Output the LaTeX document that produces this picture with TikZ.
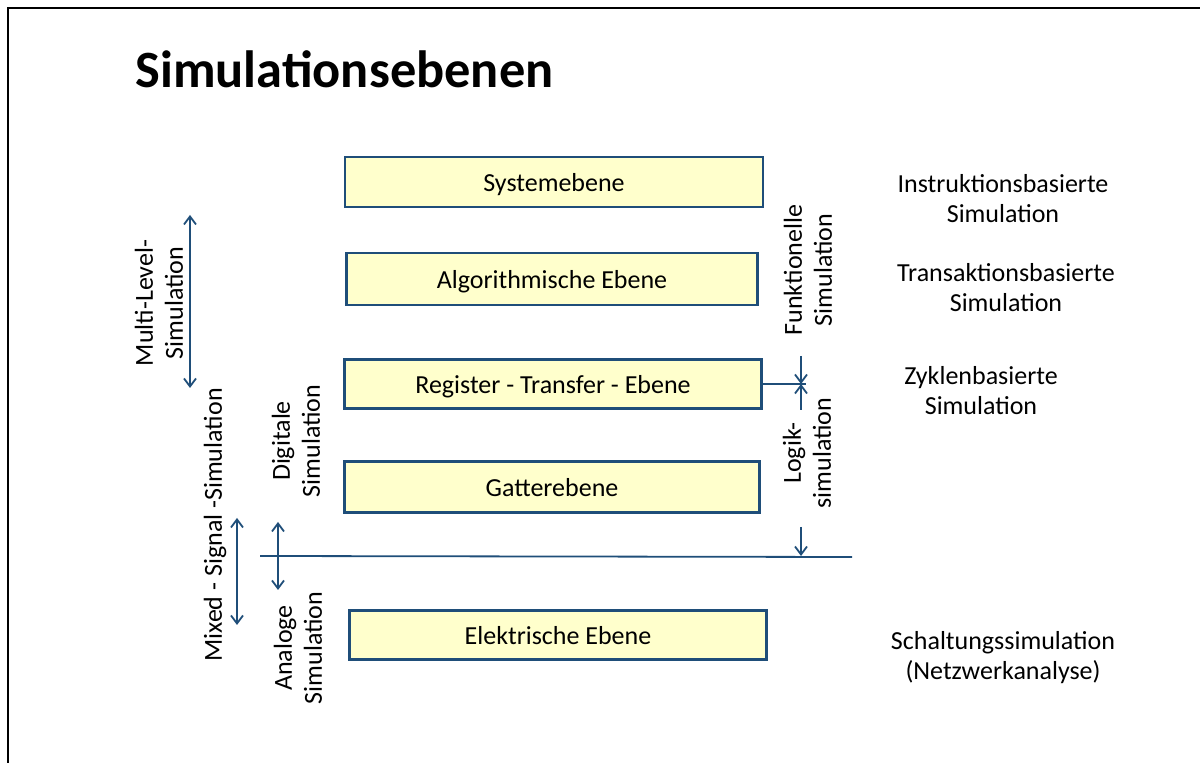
\documentclass[tikz,border=0pt]{standalone}
\usepackage{fontspec}
\setmainfont{Carlito}
\usetikzlibrary{arrows.meta}
\definecolor{boxfill}{RGB}{255,255,204}
\definecolor{boxline}{RGB}{31,78,121}
\begin{document}
\begin{tikzpicture}[x=0.5pt,y=-0.5pt,
  level/.style={draw=boxline, line width=1.1pt, fill=boxfill, inner sep=0pt,
    text height=12pt, text depth=2pt, font=\fontsize{13}{15}\selectfont},
  lbl/.style={font=\fontsize{13}{15}\selectfont, align=center, inner sep=0pt},
  vlbl/.style={lbl, rotate=90},
  conn/.style={draw=boxline, line width=0.9pt},
  tip/.style={conn, -{Straight Barb[length=4pt,width=6pt]}},
  dbl/.style={conn, {Straight Barb[length=4pt,width=6pt]}-{Straight Barb[length=4pt,width=6pt]}}
]
\useasboundingbox (0,0) rectangle (1200,763);
\draw[line width=1.1pt] (8,763) -- (8,8) -- (1200,8);

\node[anchor=base west, inner sep=0pt, font=\fontsize{26.2}{30}\selectfont\bfseries] (title) at (135,88) {Simulationsebenen};

\node[level, minimum width=209pt, minimum height=25pt] (sys) at (554,182) {Systemebene};
\node[level, minimum width=205.5pt, minimum height=26pt] (alg) at (552,279) {Algorithmische Ebene};
\node[level, minimum width=208.5pt, minimum height=24.5pt] (rt) at (553,384) {Register - Transfer - Ebene};
\node[level, minimum width=207.5pt, minimum height=25.5pt] (gat) at (552,487) {Gatterebene};
\node[level, minimum width=208.5pt, minimum height=24.5pt] (ele) at (558,635) {Elektrische Ebene};

% horizontal divider
\coordinate (hl1) at (260,556);
\coordinate (hl2) at (852,557);
\draw[conn] (hl1) -- (hl2);

% RT connector and range arrows
\coordinate (rtx) at (801,384);
\coordinate (fs) at (801,356);
\coordinate (ls1) at (801,410);
\coordinate (ls2) at (801,527);
\coordinate (lsx) at (801,556);
\draw[conn] (rt.east) -- (806,384);
\draw[tip] (fs) -- (rtx);
\draw[tip] (ls1) -- (rtx);
\draw[tip] (ls2) -- (lsx);

% left arrows
\coordinate (ml1) at (190,215);
\coordinate (ml2) at (190,388);
\draw[dbl] (ml1) -- (ml2);
\coordinate (ms1) at (237,518);
\coordinate (ms2) at (237,625);
\draw[dbl] (ms1) -- (ms2);
\coordinate (da1) at (278,522);
\coordinate (da2) at (278,590);
\draw[dbl] (da1) -- (da2);

% rotated labels
\node[vlbl] (funk) at (808,270) {Funktionelle\\Simulation};
\node[vlbl] (logik) at (807,453) {Logik-\\simulation};
\node[vlbl] (multi) at (159,303) {Multi-Level-\\Simulation};
\node[vlbl] (mixed) at (215,525) {Mixed - Signal -Simulation};
\node[vlbl] (digi) at (296,441) {Digitale\\Simulation};
\node[vlbl] (ana) at (298,648) {Analoge\\Simulation};

% right labels
\node[lbl] (instr) at (1003,199) {Instruktionsbasierte\\Simulation};
\node[lbl] (trans) at (1006,288) {Transaktionsbasierte\\Simulation};
\node[lbl] (zykl) at (981,391) {Zyklenbasierte\\Simulation};
\node[lbl] (schalt) at (1003,658) {Schaltungssimulation\\(Netzwerkanalyse)};
\end{tikzpicture}
\end{document}
